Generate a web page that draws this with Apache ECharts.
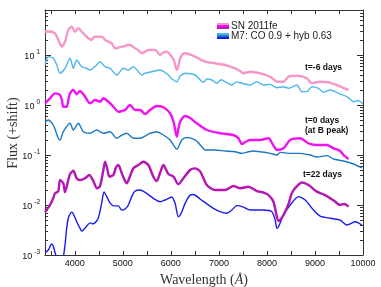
<!DOCTYPE html>
<html><head><meta charset="utf-8">
<script src="https://cdn.jsdelivr.net/npm/echarts@6/dist/echarts.min.js"></script>
<style>html,body{margin:0;padding:0;background:#fff}#c{width:381px;height:287px}</style>
</head><body><div id="c"></div>
<script>
// wavelength (Angstrom), flux (+shift)
const snMinus6 = [[3380,29.2],[3484,29.5],[3588,27],[3657,20],[3728,14.7],[3797,18.5],[3865,31.6],[3936,36.8],[4005,29.2],[4074,34.2],[4145,29.2],[4213,25.1],[4282,21.6],[4353,20],[4400,23],[4457,23.2],[4561,23.2],[4630,20],[4699,18.5],[4770,17.1],[4838,13.6],[4874,13.6],[4943,14.5],[5011,14.7],[5109,15.8],[5151,15.8],[5255,13.6],[5317,12.6],[5395,10.8],[5463,11.6],[5526,12.6],[5672,12.6],[5776,10],[5838,11.2],[5915,11.6],[6020,9.25],[6068,7.6],[6124,5.0],[6157,6.0],[6193,8.59],[6255,10.5],[6297,10.8],[6505,9.25],[6713,7.34],[6922,6.82],[7130,6.31],[7338,5.42],[7443,4.8],[7511,4.31],[7651,4.63],[7859,4.31],[8068,3.68],[8207,2.92],[8345,2.92],[8449,3.68],[8624,3.85],[8832,3.42],[8936,2.72],[9109,2.92],[9282,2.84],[9457,2.51],[9567,2.25],[9699,2.0]];
const modelMinus6 = [[3380,6.31],[3449,9.25],[3553,8.59],[3624,6.31],[3693,4.31],[3797,5.42],[3901,8.59],[3970,5.42],[4040,7.94],[4145,5.83],[4234,5.5],[4318,5.01],[4457,6.31],[4526,7.34],[4630,5.83],[4734,5.42],[4874,3.98],[5011,5.42],[5115,5.01],[5220,5.83],[5297,5.0],[5395,3.98],[5463,4.31],[5603,4.63],[5776,5.01],[5949,3.98],[6026,3.3],[6124,2.92],[6193,3.8],[6297,4.31],[6505,3.98],[6678,2.84],[6755,3.3],[6853,3.16],[6957,2.72],[7047,3.2],[7130,2.92],[7270,2.51],[7359,2.9],[7478,2.72],[7651,2.51],[7790,2.92],[7928,2.51],[8068,2.58],[8207,2.22],[8345,2.32],[8449,2.16],[8624,2.51],[8728,1.85],[8832,1.85],[8936,2.32],[9074,2.16],[9178,1.79],[9318,2.0],[9490,1.71],[9665,1.47],[9803,1.16],[9901,1.23],[9999,1.05]];
const sn0 = [[3380,1.08],[3484,1.36],[3588,1.71],[3693,1.58],[3735,1.2],[3761,0.925],[3832,0.925],[3870,1.32],[3901,1.71],[3970,2.0],[4040,1.64],[4109,1.91],[4213,1.47],[4318,1.08],[4422,1.26],[4526,1.16],[4595,1.36],[4699,1.16],[4803,0.925],[4907,0.734],[4963,0.75],[5047,0.794],[5151,1.0],[5255,0.794],[5359,0.794],[5463,0.66],[5568,0.794],[5707,0.955],[5845,0.90],[5984,0.682],[6057,0.457],[6124,0.232],[6162,0.35],[6193,0.463],[6297,0.603],[6401,0.55],[6540,0.431],[6749,0.316],[7026,0.272],[7297,0.251],[7401,0.22],[7478,0.166],[7547,0.18],[7651,0.2],[7859,0.2],[8032,0.216],[8130,0.158],[8207,0.126],[8345,0.136],[8484,0.2],[8693,0.216],[8865,0.171],[9040,0.158],[9249,0.158],[9386,0.136],[9526,0.12],[9595,0.1],[9699,0.0832]];
const model0 = [[3380,0.463],[3449,0.501],[3553,0.398],[3657,0.216],[3693,0.2],[3761,0.292],[3901,0.431],[3970,0.316],[4074,0.431],[4178,0.292],[4318,0.272],[4457,0.316],[4595,0.272],[4734,0.292],[4874,0.216],[4978,0.251],[5082,0.272],[5220,0.216],[5359,0.216],[5499,0.251],[5568,0.272],[5707,0.292],[5845,0.251],[5984,0.2],[6124,0.13],[6228,0.2],[6332,0.224],[6505,0.2],[6645,0.147],[6713,0.126],[6922,0.126],[7130,0.12],[7338,0.116],[7478,0.108],[7615,0.116],[7713,0.12],[7859,0.116],[8068,0.108],[8207,0.1],[8276,0.113],[8484,0.108],[8693,0.108],[8901,0.1],[9040,0.091],[9249,0.097],[9386,0.0832],[9595,0.0759],[9803,0.066],[9978,0.055]];
const sn22 = [[3380,0.0072],[3484,0.01],[3553,0.0138],[3588,0.0171],[3657,0.019],[3693,0.0316],[3761,0.0272],[3797,0.018],[3865,0.0316],[3901,0.0415],[3970,0.0485],[4040,0.0342],[4109,0.0316],[4213,0.0342],[4303,0.0398],[4386,0.0302],[4463,0.0215],[4526,0.024],[4595,0.0501],[4630,0.0734],[4672,0.055],[4720,0.0368],[4803,0.0398],[4859,0.057],[4907,0.0631],[4978,0.0431],[5047,0.0302],[5082,0.0272],[5151,0.038],[5220,0.0542],[5324,0.0631],[5428,0.0734],[5532,0.0631],[5636,0.0368],[5707,0.0302],[5776,0.044],[5845,0.0631],[5949,0.0415],[6053,0.0368],[6157,0.026],[6261,0.0342],[6401,0.0501],[6505,0.054],[6609,0.047],[6749,0.0251],[6922,0.02],[7130,0.02],[7303,0.024],[7443,0.0216],[7615,0.0232],[7790,0.019],[7900,0.018],[8032,0.0158],[8136,0.0116],[8207,0.0058],[8240,0.0048],[8345,0.0063],[8449,0.0105],[8520,0.0174],[8610,0.023],[8728,0.0281],[8865,0.0251],[9040,0.0185],[9213,0.0158],[9386,0.0124],[9526,0.01],[9609,0.0105],[9699,0.00925]];
const model22 = [[3380,0.00112],[3449,0.00126],[3515,0.00166],[3553,0.0015],[3588,0.00112],[3624,0.00087],[3660,0.0005],[3735,0.0005],[3761,0.00087],[3797,0.00158],[3832,0.0035],[3865,0.0055],[3901,0.0066],[3936,0.0072],[3970,0.0066],[4040,0.00463],[4109,0.00342],[4145,0.003],[4178,0.00316],[4249,0.0038],[4318,0.0044],[4380,0.0042],[4422,0.0044],[4490,0.0055],[4561,0.011],[4609,0.0183],[4665,0.0147],[4734,0.011],[4803,0.0096],[4907,0.0096],[4978,0.0079],[5047,0.0083],[5115,0.01],[5192,0.0152],[5255,0.019],[5359,0.02],[5499,0.0171],[5636,0.0136],[5776,0.0116],[5880,0.0126],[6020,0.0145],[6088,0.0108],[6157,0.0058],[6228,0.0073],[6297,0.0108],[6401,0.0158],[6470,0.0162],[6609,0.0132],[6749,0.0105],[6886,0.00859],[7026,0.00734],[7165,0.00682],[7270,0.00794],[7374,0.0097],[7511,0.0091],[7651,0.00794],[7928,0.00794],[8103,0.00734],[8172,0.005],[8207,0.00342],[8240,0.00368],[8345,0.0063],[8484,0.01],[8657,0.0147],[8797,0.0126],[8969,0.00794],[9109,0.006],[9318,0.00542],[9526,0.005],[9665,0.00398],[9734,0.0042],[9838,0.00463],[9978,0.00398]];

const xTickValues = [3500,4000,4500,5000,5500,6000,6500,7000,7500,8000,8500,9000,9500,10000];
const xLabelValues = [4000,5000,6000,7000,8000,9000,10000];
const yLabelValues = [0.001,0.01,0.1,1,10];
const yMinorValues = [];
[0.001,0.01,0.1,1,10].forEach(d => { for (let k = 2; k <= 9; k++) { if (d*k < 79) yMinorValues.push(+(d*k).toPrecision(2)); } });
const legendNames = ['SN 2011fe', 'M7: CO 0.9 + hyb 0.63'];
const phaseLabels = ['t=-6 days', 't=0 days', '(at B peak)', 't=22 days'];
const yTitle = 'Flux (+shift)';

const XMIN = 3380, XMAX = 10000, YMIN = 0.001, YMAX = 79.4;
const axisColor = '#333';
const chart = echarts.init(document.getElementById('c'), null, {renderer: 'canvas'});

function line(name, data, color, width) {
  return { type: 'line', name, data, showSymbol: false, smooth: 0.25, clip: true,
    lineStyle: { color, width }, itemStyle: { color }, emphasis: { disabled: true }, animation: false };
}

const tickLabelStyle = { fontFamily: 'Liberation Sans', fontSize: 9, color: '#111' };

chart.setOption({
  animation: false,
  backgroundColor: '#fff',
  grid: { left: 45, right: 18, top: 10, bottom: 32, containLabel: false, outerBoundsMode: 'none' },
  xAxis: [{
    type: 'value', min: XMIN, max: XMAX, position: 'bottom',
    axisLine: { show: true, lineStyle: { color: axisColor, width: 1 } },
    axisTick: { show: true, inside: true, length: 4, customValues: xTickValues, lineStyle: { color: axisColor } },
    axisLabel: { customValues: xLabelValues, margin: 4, formatter: v => String(v), ...tickLabelStyle },
    splitLine: { show: false },
    name: '{n|Wavelength (}{i|Å}{n|)}', nameLocation: 'middle', nameGap: 10,
    nameTextStyle: { rich: { n: { fontFamily: 'Liberation Serif', fontSize: 14, color: '#333' }, i: { fontFamily: 'Liberation Serif', fontStyle: 'italic', fontSize: 14, color: '#333' } } }
  }, {
    type: 'value', min: XMIN, max: XMAX, position: 'top',
    axisLine: { show: true, lineStyle: { color: axisColor, width: 1 } },
    axisTick: { show: true, inside: true, length: 4, customValues: xTickValues, lineStyle: { color: axisColor } },
    axisLabel: { show: false }, splitLine: { show: false }
  }],
  yAxis: [{
    type: 'log', logBase: 10, min: YMIN, max: YMAX, position: 'left',
    axisLine: { show: true, lineStyle: { color: axisColor, width: 1 } },
    axisTick: { show: true, inside: true, length: 6, customValues: yLabelValues, lineStyle: { color: axisColor } },
    axisLabel: {
      customValues: yLabelValues, margin: 5,
      formatter: v => '{b|10}{s|' + Math.round(Math.log10(v)) + '}',
      rich: {
        b: { fontFamily: 'Liberation Sans', fontSize: 9, color: '#111', lineHeight: 12, verticalAlign: 'bottom' },
        s: { fontFamily: 'Liberation Sans', fontSize: 6.5, color: '#111', lineHeight: 12, verticalAlign: 'top', padding: [0, 0, 0, 2] }
      }
    },
    splitLine: { show: false }
  }, {
    type: 'log', logBase: 10, min: YMIN, max: YMAX, position: 'right',
    axisLine: { show: true, lineStyle: { color: axisColor, width: 1 } },
    axisTick: { show: true, inside: true, length: 6, customValues: yLabelValues, lineStyle: { color: axisColor } },
    axisLabel: { show: false }, splitLine: { show: false }
  }],
  series: [
    {
      type: 'custom', silent: true, clip: false, animation: false,
      data: yMinorValues.map(v => [XMIN, v]),
      renderItem(params, api) {
        const cs = params.coordSys;
        const y = Math.round(api.coord([XMIN, api.value(1)])[1]) + 0.5;
        return { type: 'group', children: [
          { type: 'line', shape: { x1: cs.x, y1: y, x2: cs.x + 3, y2: y }, style: { stroke: axisColor, lineWidth: 1 } },
          { type: 'line', shape: { x1: cs.x + cs.width, y1: y, x2: cs.x + cs.width - 3, y2: y }, style: { stroke: axisColor, lineWidth: 1 } }
        ] };
      }
    },
    line('model -6', modelMinus6, '#4db6ea', 1.4),
    line('SN -6', snMinus6, '#f896c8', 2.4),
    line('model 0', model0, '#1b79c4', 1.4),
    line('SN 0', sn0, '#f012f0', 2.4),
    line('model 22', model22, '#1a1aee', 1.4),
    line('SN 22', sn22, '#b416b4', 2.4)
  ],
  graphic: [
    { type: 'text', x: 13, y: 133, rotation: Math.PI / 2, style: { text: yTitle, fontFamily: 'Liberation Serif', fontSize: 14, fill: '#333', align: 'center', verticalAlign: 'middle' } },
    { type: 'rect', shape: { x: 217, y: 23, width: 12, height: 2 }, style: { fill: '#f896c8' } },
    { type: 'rect', shape: { x: 217, y: 25, width: 12, height: 2 }, style: { fill: '#f012f0' } },
    { type: 'rect', shape: { x: 217, y: 27, width: 12, height: 2 }, style: { fill: '#b416b4' } },
    { type: 'rect', shape: { x: 217, y: 33, width: 12, height: 2 }, style: { fill: '#4db6ea' } },
    { type: 'rect', shape: { x: 217, y: 35, width: 12, height: 2 }, style: { fill: '#1b79c4' } },
    { type: 'rect', shape: { x: 217, y: 37, width: 12, height: 2 }, style: { fill: '#1a1aee' } },
    { type: 'text', x: 231, y: 26, style: { text: legendNames[0], fontFamily: 'Liberation Sans', fontSize: 10, fill: '#222', verticalAlign: 'middle' } },
    { type: 'text', x: 231, y: 36.5, style: { text: legendNames[1], fontFamily: 'Liberation Sans', fontSize: 10, fill: '#222', verticalAlign: 'middle' } },
    { type: 'text', x: 305, y: 68, style: { text: phaseLabels[0], fontFamily: 'Liberation Sans', fontWeight: 'bold', fontSize: 8.5, fill: '#111', verticalAlign: 'middle' } },
    { type: 'text', x: 305, y: 121, style: { text: phaseLabels[1], fontFamily: 'Liberation Sans', fontWeight: 'bold', fontSize: 8.5, fill: '#111', verticalAlign: 'middle' } },
    { type: 'text', x: 305, y: 131, style: { text: phaseLabels[2], fontFamily: 'Liberation Sans', fontWeight: 'bold', fontSize: 8.5, fill: '#111', verticalAlign: 'middle' } },
    { type: 'text', x: 303, y: 175, style: { text: phaseLabels[3], fontFamily: 'Liberation Sans', fontWeight: 'bold', fontSize: 8.5, fill: '#111', verticalAlign: 'middle' } }
  ]
});
</script>
</body></html>
